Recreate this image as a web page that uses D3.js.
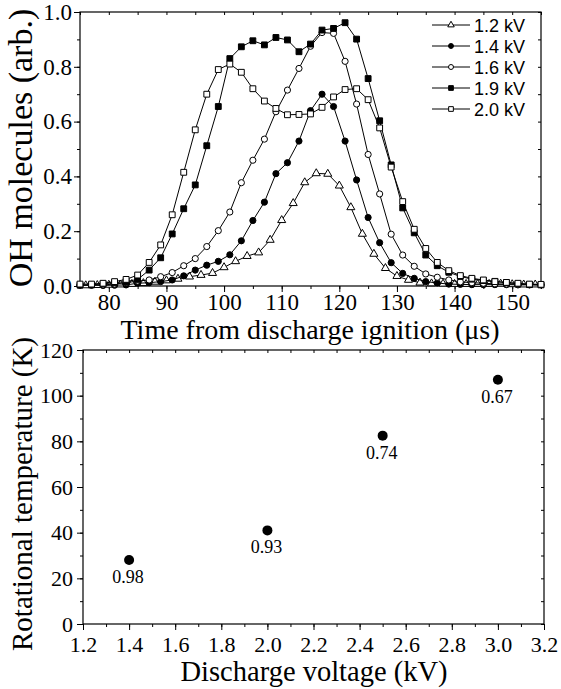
<!DOCTYPE html>
<html>
<head>
<meta charset="utf-8">
<script src="https://cdn.jsdelivr.net/npm/d3@7"></script>
<style>
  body { margin: 0; background: #fff; }
</style>
</head>
<body>
<script>
// top panel: OH molecules vs time
var timesOdd = [75,77,79,81,83,85,87,89,91,93,95,97,99,101,103,105,107,109,111,113,
                115,117,119,121,123,125,127,129,131,133,135,137,139,141,143,145,147,149,151,153,155];
var timesEven = [76,78,80,82,84,86,88,90,92,94,96,98,100,102,104,106,108,110,112,114,
                 116,118,120,122,124,126,128,130,132,134,136,138,140,142,144,146,148,150,152,154];

var oh12 = [0.002,0.003,0.004,0.005,0.007,0.01,0.015,0.02,0.026,0.034,
            0.04,0.047,0.068,0.09,0.109,0.122,0.168,0.24,0.302,0.378,
            0.411,0.409,0.366,0.287,0.19,0.117,0.065,0.036,0.022,0.012,
            0.009,0.008,0.007,0.007,0.007,0.007,0.008,0.006,0.005,0.005];
var oh14 = [0.003,0.003,0.002,0.003,0.004,0.01,0.012,0.016,0.022,0.037,
            0.058,0.076,0.09,0.114,0.165,0.239,0.306,0.41,0.45,0.529,
            0.64,0.70,0.655,0.529,0.387,0.25,0.158,0.085,0.046,0.028,
            0.016,0.011,0.007,0.006,0.005,0.005,0.005,0.005,0.004,0.004,0.004];
var oh16 = [0.003,0.003,0.004,0.007,0.012,0.018,0.022,0.034,0.049,0.074,
            0.1,0.144,0.202,0.27,0.377,0.459,0.536,0.636,0.715,0.794,
            0.875,0.925,0.922,0.82,0.664,0.48,0.336,0.189,0.113,0.072,
            0.044,0.032,0.022,0.015,0.012,0.01,0.008,0.007,0.006,0.005,0.005];
var oh19 = [0.003,0.004,0.008,0.012,0.016,0.024,0.058,0.103,0.19,0.282,
            0.369,0.512,0.655,0.83,0.873,0.895,0.88,0.907,0.898,0.855,
            0.883,0.934,0.94,0.961,0.901,0.757,0.603,0.442,0.285,0.194,
            0.113,0.074,0.05,0.035,0.025,0.02,0.017,0.012,0.008,0.005,0.004];
var oh20 = [0.007,0.007,0.01,0.016,0.024,0.04,0.086,0.15,0.26,0.415,
            0.57,0.70,0.79,0.81,0.78,0.72,0.675,0.648,0.625,0.626,
            0.628,0.652,0.69,0.717,0.72,0.68,0.577,0.434,0.308,0.207,
            0.137,0.086,0.056,0.038,0.028,0.022,0.016,0.013,0.01,0.007,0.006];

var seriesNames = ["1.2 kV","1.4 kV","1.6 kV","1.9 kV","2.0 kV"];
var timeTicks = [80,90,100,110,120,130,140,150];
var ohTicks = [0,0.2,0.4,0.6,0.8,1.0];

// bottom panel: rotational temperature vs voltage
var voltages = [1.4,2.0,2.5,3.0];
var rotTemps = [28,41,82.5,107];
var pointLabels = ["0.98","0.93","0.74","0.67"];
var voltTicks = [1.2,1.4,1.6,1.8,2.0,2.2,2.4,2.6,2.8,3.0,3.2];
var tempTicks = [0,20,40,60,80,100,120];

var serif = "'Liberation Serif','Times New Roman',serif";
var sans = "'Liberation Sans',Arial,sans-serif";

var svg = d3.select("body").append("svg")
    .attr("width", 561)
    .attr("height", 689);

var xTop = d3.scaleLinear().domain([75,155]).range([80,541]);
var yTop = d3.scaleLinear().domain([0,1]).range([286,12]);
var xBot = d3.scaleLinear().domain([1.2,3.2]).range([83,544]);
var yBot = d3.scaleLinear().domain([0,120]).range([624,350]);

function styleText(g, size) {
  g.select(".domain").remove();
  g.selectAll("line").attr("stroke","#000");
  g.selectAll("text").attr("font-family", serif).attr("font-size", size).attr("fill","#000");
}

function axes(x, y, o) {
  var xr = x.range(), yr = y.range();
  var xMinor = x.ticks(o.xMinorCount), yMinor = y.ticks(o.yMinorCount);
  // bottom, major + minor
  svg.append("g").attr("transform","translate(0," + yr[0] + ")")
    .call(d3.axisBottom(x).tickValues(o.xTicks).tickFormat(o.xFmt).tickSize(6).tickPadding(o.xPad))
    .call(styleText, o.size);
  svg.append("g").attr("transform","translate(0," + yr[0] + ")")
    .call(d3.axisBottom(x).tickValues(xMinor).tickFormat("").tickSize(3))
    .call(styleText, o.size);
  // left
  svg.append("g").attr("transform","translate(" + xr[0] + ",0)")
    .call(d3.axisLeft(y).tickValues(o.yTicks).tickFormat(o.yFmt).tickSize(6).tickPadding(o.yPad))
    .call(styleText, o.size);
  svg.append("g").attr("transform","translate(" + xr[0] + ",0)")
    .call(d3.axisLeft(y).tickValues(yMinor).tickFormat("").tickSize(3))
    .call(styleText, o.size);
  // top and right, inward
  svg.append("g").attr("transform","translate(0," + yr[1] + ")")
    .call(d3.axisBottom(x).tickValues(xMinor).tickFormat("").tickSize(3))
    .call(styleText, o.size);
  svg.append("g").attr("transform","translate(" + xr[1] + ",0)")
    .call(d3.axisLeft(y).tickValues(yMinor).tickFormat("").tickSize(3))
    .call(styleText, o.size);
  // frame
  svg.append("rect")
    .attr("x", xr[0]).attr("y", yr[1])
    .attr("width", xr[1] - xr[0]).attr("height", yr[0] - yr[1])
    .attr("fill","none").attr("stroke","#000").attr("stroke-width",1.2);
}

axes(xTop, yTop, {
  xTicks: timeTicks, xFmt: d3.format("d"), xMinorCount: 16, xPad: 2,
  yTicks: ohTicks, yFmt: d3.format(".1f"), yMinorCount: 10, yPad: 2, size: 23
});
axes(xBot, yBot, {
  xTicks: voltTicks, xFmt: d3.format(".1f"), xMinorCount: 20, xPad: 6,
  yTicks: tempTicks, yFmt: d3.format("d"), yMinorCount: 12, yPad: 4, size: 22
});

// series
var series = [
  {name: seriesNames[0], t: timesEven, v: oh12, sym: d3.symbolTriangle, size: 28, fill: "#fff"},
  {name: seriesNames[1], t: timesOdd,  v: oh14, sym: d3.symbolCircle,   size: 30, fill: "#000"},
  {name: seriesNames[2], t: timesOdd,  v: oh16, sym: d3.symbolCircle,   size: 30, fill: "#fff"},
  {name: seriesNames[3], t: timesOdd,  v: oh19, sym: d3.symbolSquare,   size: 34, fill: "#000"},
  {name: seriesNames[4], t: timesOdd,  v: oh20, sym: d3.symbolSquare,   size: 34, fill: "#fff"}
];

var line = d3.line()
    .x(function(d) { return xTop(d[0]); })
    .y(function(d) { return yTop(d[1]); });

series.forEach(function(s) {
  var pts = s.t.map(function(t, i) { return [t, s.v[i]]; });
  svg.append("path")
     .datum(pts)
     .attr("d", line)
     .attr("fill","none")
     .attr("stroke","#000")
     .attr("stroke-width",1);
  svg.append("g").selectAll("path")
     .data(pts)
     .enter()
     .append("path")
     .attr("d", d3.symbol().type(s.sym).size(s.size))
     .attr("transform", function(d) { return "translate(" + xTop(d[0]) + "," + yTop(d[1]) + ")"; })
     .attr("fill", s.fill)
     .attr("stroke","#000")
     .attr("stroke-width",1);
});

// legend
var leg = svg.append("g").selectAll("g")
    .data(series)
    .enter()
    .append("g")
    .attr("transform", function(d, i) { return "translate(0," + (25 + i * 21) + ")"; });
leg.append("line")
   .attr("x1",432).attr("x2",470).attr("y1",0).attr("y2",0)
   .attr("stroke","#000").attr("stroke-width",1);
leg.append("path")
   .attr("d", function(d) { return d3.symbol().type(d.sym).size(d.size * 0.65)(); })
   .attr("transform","translate(451,0)")
   .attr("fill", function(d) { return d.fill; })
   .attr("stroke","#000")
   .attr("stroke-width",1);
leg.append("text")
   .text(function(d) { return d.name; })
   .attr("x",474).attr("y",6.5)
   .attr("font-family", sans)
   .attr("font-size","18px")
   .attr("fill","#000");

// bottom scatter
svg.append("g").selectAll("circle")
   .data(voltages)
   .enter()
   .append("circle")
   .attr("cx", function(d) { return xBot(d); })
   .attr("cy", function(d, i) { return yBot(rotTemps[i]); })
   .attr("r", 5)
   .attr("fill","#000");

svg.append("g").selectAll("text")
   .data(voltages)
   .enter()
   .append("text")
   .text(function(d, i) { return pointLabels[i]; })
   .attr("x", function(d) { return xBot(d) - 1; })
   .attr("y", function(d, i) { return yBot(rotTemps[i]) + 23; })
   .attr("text-anchor","middle")
   .attr("font-family", serif)
   .attr("font-size","18px")
   .attr("fill","#000");

// titles
svg.append("text")
   .text("Time from discharge ignition (\u03bcs)")
   .attr("x",310).attr("y",339)
   .attr("text-anchor","middle")
   .attr("font-family", serif).attr("font-size","28px").attr("fill","#000");
svg.append("text")
   .text("Discharge voltage (kV)")
   .attr("x",314).attr("y",681)
   .attr("text-anchor","middle")
   .attr("font-family", serif).attr("font-size","28.5px").attr("fill","#000");
svg.append("text")
   .text("OH molecules (arb.)")
   .attr("transform","translate(32,148) rotate(-90)")
   .attr("text-anchor","middle")
   .attr("font-family", serif).attr("font-size","34px").attr("fill","#000");
svg.append("text")
   .text("Rotational temperature (K)")
   .attr("transform","translate(32,494) rotate(-90)")
   .attr("text-anchor","middle")
   .attr("font-family", serif).attr("font-size","29px").attr("fill","#000");
</script>
</body>
</html>
